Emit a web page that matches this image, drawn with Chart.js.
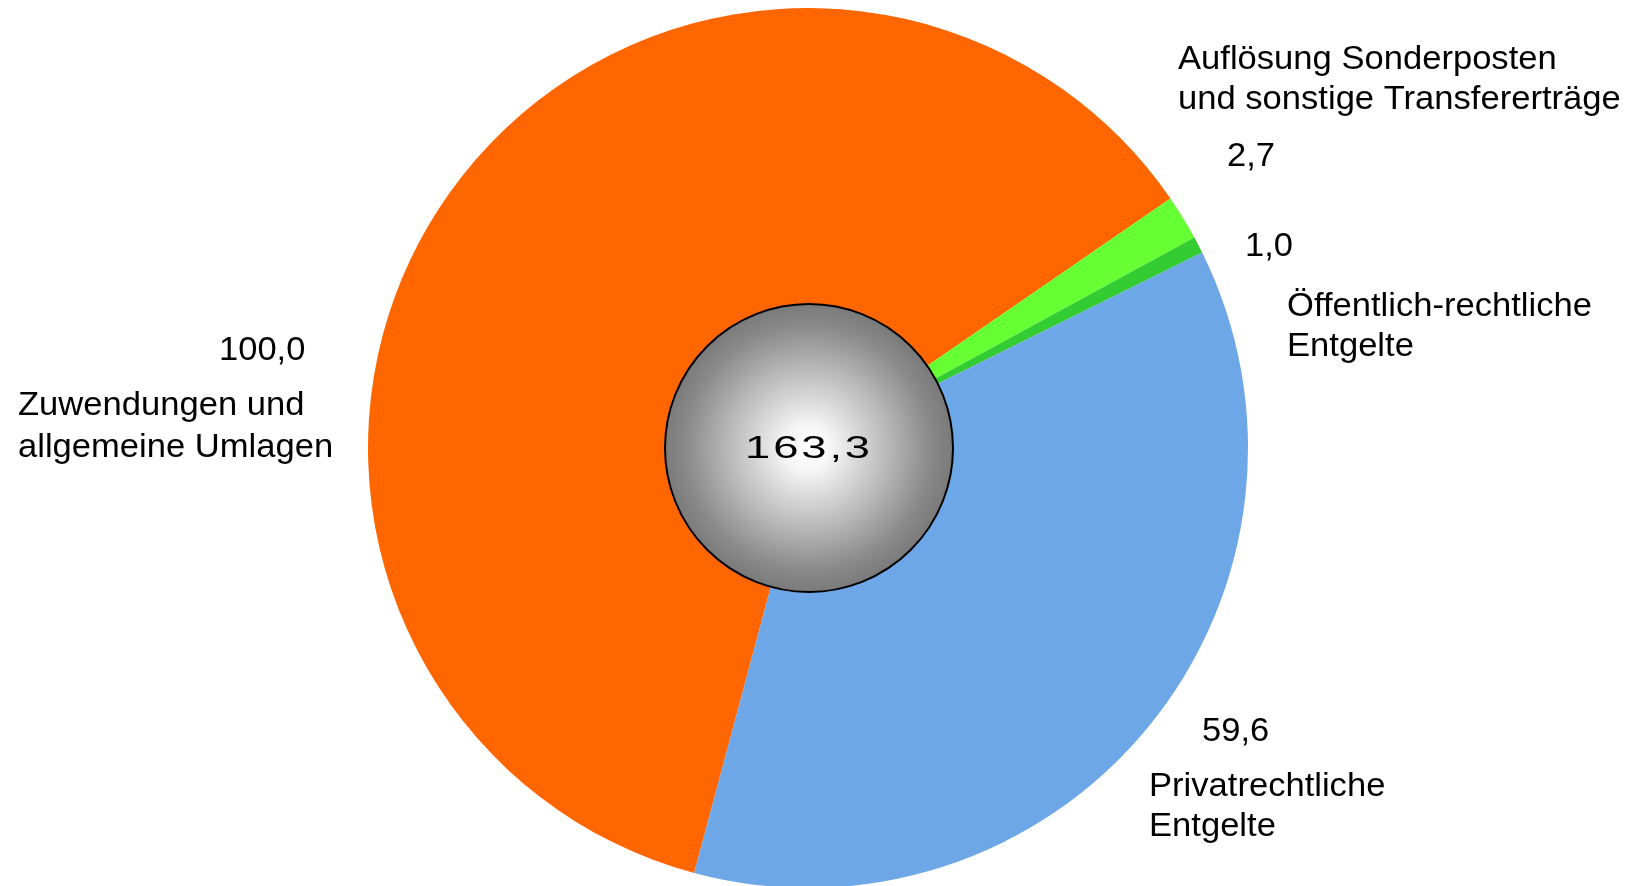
<!DOCTYPE html>
<html>
<head>
<meta charset="utf-8">
<script src="https://cdn.jsdelivr.net/npm/chart.js@4/dist/chart.umd.min.js"></script>
<style>
html,body{margin:0;padding:0;background:#fff;overflow:hidden;width:1632px;height:886px;}
#wrap{position:absolute;left:0;top:0;width:1632px;height:896px;}
</style>
</head>
<body>
<div id="wrap"><canvas id="c"></canvas></div>
<script>
const categories = ["Zuwendungen und allgemeine Umlagen", "Auflösung Sonderposten und sonstige Transfererträge", "Öffentlich-rechtliche Entgelte", "Privatrechtliche Entgelte"];
const values = [100.0, 2.7, 1.0, 59.6];
const valueLabels = ["100,0", "2,7", "1,0", "59,6"];
const totalLabel = "163,3";
const colors = ["#FF6600", "#66FF33", "#33CC33", "#6DA7E7"];

// label layout (relative to pie center): value text + category lines
const labelLayout = [
  {value:[-589, -88], lines:[["Zuwendungen und", -790, -33], ["allgemeine Umlagen", -790, 9]]},
  {value:[419, -282], lines:[["Auflösung Sonderposten", 370, -379], ["und sonstige Transfererträge", 370, -339]]},
  {value:[437, -192], lines:[["Öffentlich-rechtliche", 479, -132], ["Entgelte", 479, -92]]},
  {value:[394, 293], lines:[["Privatrechtliche", 341, 348], ["Entgelte", 341, 388]]}
];

function wideText(ctx, txt, x, y, sx) {
  ctx.save();
  ctx.translate(x, y);
  ctx.scale(sx, 1);
  ctx.fillText(txt, 0, 0);
  ctx.restore();
}

const overlay = {
  id: 'overlay',
  afterDatasetsDraw(chart) {
    const ctx = chart.ctx;
    const arc = chart.getDatasetMeta(0).data[0];
    const cx = arc.x, cy = arc.y;
    // center circle
    const r = 144;
    ctx.save();
    const g = ctx.createRadialGradient(cx, cy, 0, cx, cy, r);
    g.addColorStop(0, '#ffffff');
    g.addColorStop(0.15, '#f7f7f7');
    g.addColorStop(0.55, '#b9b9b9');
    g.addColorStop(0.85, '#8a8a8a');
    g.addColorStop(1, '#7a7a7a');
    ctx.beginPath();
    ctx.arc(cx + 1, cy, r, 0, Math.PI * 2);
    ctx.fillStyle = g;
    ctx.fill();
    ctx.lineWidth = 2;
    ctx.strokeStyle = '#000';
    ctx.stroke();
    // total text, wide style
    ctx.save();
    ctx.translate(cx + 1, cy + 10);
    ctx.scale(1.42, 1);
    ctx.font = '32px "Liberation Sans", Arial, sans-serif';
    ctx.letterSpacing = '2px';
    ctx.fillStyle = '#000';
    ctx.textAlign = 'center';
    ctx.textBaseline = 'alphabetic';
    ctx.fillText(totalLabel, 0, 0);
    ctx.restore();
    // labels
    ctx.font = '34px "Liberation Sans", Arial, sans-serif';
    ctx.fillStyle = '#000';
    ctx.textAlign = 'left';
    ctx.textBaseline = 'alphabetic';
    labelLayout.forEach((l, i) => {
      wideText(ctx, valueLabels[i], cx + l.value[0], cy + l.value[1], 1.015);
      l.lines.forEach(t => wideText(ctx, t[0], cx + t[1], cy + t[2], 1.017));
    });
    ctx.restore();
  }
};

new Chart(document.getElementById('c'), {
  type: 'pie',
  data: {
    labels: categories,
    datasets: [{
      data: values,
      backgroundColor: colors,
      borderWidth: 0,
      hoverOffset: 0
    }]
  },
  options: {
    responsive: true,
    maintainAspectRatio: false,
    animation: false,
    rotation: 195,
    layout: {padding: {top: 8, bottom: 8, left: 0, right: 16}},
    plugins: {legend: {display: false}, tooltip: {enabled: false}}
  },
  plugins: [overlay]
});
</script>
</body>
</html>
